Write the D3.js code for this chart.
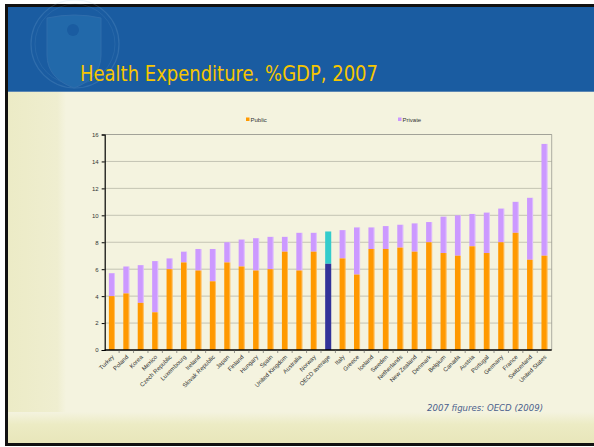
<!DOCTYPE html>
<html>
<head>
<meta charset="utf-8">
<script src="https://cdn.jsdelivr.net/npm/d3@7"></script>
<style>
  body { margin: 0; background: #ffffff; }
  svg { display: block; }
  .axis text { font-family: "Liberation Sans", Arial, sans-serif; font-size: 6px; fill: #333333; }
</style>
</head>
<body>
<script>
// Data
var countries = ['Turkey', 'Poland', 'Korea', 'Mexico', 'Czech Republic', 'Luxembourg', 'Ireland',
  'Slovak Republic', 'Japan', 'Finland', 'Hungary', 'Spain', 'United Kingdom', 'Australia', 'Norway',
  'OECD average', 'Italy', 'Greece', 'Iceland', 'Sweden', 'Netherlands', 'New Zealand', 'Denmark',
  'Belgium', 'Canada', 'Austria', 'Portugal', 'Germany', 'France', 'Switzerland', 'United States'];
var totalSpend = [5.7, 6.2, 6.3, 6.6, 6.8, 7.3, 7.5, 7.5, 8.0, 8.2, 8.3, 8.4, 8.4, 8.7, 8.7,
  8.8, 8.9, 9.1, 9.1, 9.2, 9.3, 9.4, 9.5, 9.9, 10.0, 10.1, 10.2, 10.5, 11.0, 11.3, 15.3];
var publicSpend = [4.0, 4.2, 3.5, 2.8, 6.0, 6.5, 5.9, 5.1, 6.5, 6.2, 5.9, 6.0, 7.3, 5.9, 7.3,
  6.4, 6.8, 5.6, 7.5, 7.5, 7.6, 7.3, 8.0, 7.2, 7.0, 7.7, 7.2, 8.0, 8.7, 6.7, 7.0];
var seriesNames = ['Public', 'Private'];
var yTicks = [0, 2, 4, 6, 8, 10, 12, 14, 16];

var W = 594, H = 447;

var svg = d3.select("body").append("svg")
  .attr("width", W)
  .attr("height", H);

// ---- slide background ----
svg.append("rect").attr("x", 0).attr("y", 0).attr("width", W).attr("height", H).attr("fill", "#ffffff");
svg.append("rect").attr("x", 5).attr("y", 4).attr("width", W - 5).attr("height", 442).attr("fill", "#111111");
svg.append("rect").attr("x", 8).attr("y", 7).attr("width", W - 8).attr("height", 436).attr("fill", "#f4f3df");

var defs = svg.append("defs");
var grad = defs.append("linearGradient").attr("id", "bottomGrad")
  .attr("x1", 0).attr("y1", 0).attr("x2", 0).attr("y2", 1);
grad.append("stop").attr("offset", "0%").attr("stop-color", "#f4f3df");
grad.append("stop").attr("offset", "40%").attr("stop-color", "#ecebc4");
grad.append("stop").attr("offset", "100%").attr("stop-color", "#e8e6ba");

var sideGrad = defs.append("linearGradient").attr("id", "sideGrad")
  .attr("x1", 0).attr("y1", 0).attr("x2", 1).attr("y2", 0);
sideGrad.append("stop").attr("offset", "0%").attr("stop-color", "#ecebc6");
sideGrad.append("stop").attr("offset", "85%").attr("stop-color", "#efeed0");
sideGrad.append("stop").attr("offset", "100%").attr("stop-color", "#f4f3df");

// left strip and bottom band
svg.append("rect").attr("x", 8).attr("y", 92).attr("width", 58).attr("height", 351).attr("fill", "url(#sideGrad)");
svg.append("rect").attr("x", 8).attr("y", 412).attr("width", W - 8).attr("height", 31).attr("fill", "url(#bottomGrad)");

// header
svg.append("rect").attr("x", 8).attr("y", 7).attr("width", W - 8).attr("height", 84).attr("fill", "#1a5ca1");
svg.append("line").attr("x1", 8).attr("x2", W).attr("y1", 91.5).attr("y2", 91.5)
  .attr("stroke", "#5b86b3").attr("stroke-width", 1);

// faint crest watermark
var crest = svg.append("g").attr("opacity", 0.16);
crest.append("circle").attr("cx", 75).attr("cy", 44).attr("r", 44)
  .attr("fill", "none").attr("stroke", "#9cc6e6").attr("stroke-width", 1.2);
crest.append("circle").attr("cx", 75).attr("cy", 44).attr("r", 40)
  .attr("fill", "none").attr("stroke", "#7fb0d8").attr("stroke-width", 0.8);
crest.append("path")
  .attr("d", "M47,18 Q75,12 101,18 L101,55 Q101,78 74,88 Q47,78 47,55 Z")
  .attr("fill", "#4fb0d8").attr("stroke", "#9cc6e6").attr("stroke-width", 1);
crest.append("circle").attr("cx", 73).attr("cy", 30).attr("r", 6).attr("fill", "#1a5ca1");

// title
svg.append("text")
  .attr("x", 80).attr("y", 81)
  .attr("font-family", "Verdana, 'DejaVu Sans', sans-serif")
  .attr("font-size", 21)
  .attr("fill", "#f7c600")
  .attr("textLength", 298)
  .attr("lengthAdjust", "spacingAndGlyphs")
  .text("Health Expenditure. %GDP, 2007");

// ---- chart ----
var plot = { left: 104.7, right: 551.7, top: 134.5, bottom: 350 };

var x = d3.scaleBand()
  .domain(countries)
  .range([plot.left, plot.right])
  .paddingInner(0.58)
  .paddingOuter(0.29);

var xTick = d3.scaleBand().domain(countries).range([plot.left, plot.right]);

var y = d3.scaleLinear()
  .domain([0, 16])
  .range([plot.bottom, plot.top]);

// gridlines
svg.append("g")
  .selectAll("line")
  .data(yTicks.filter(function (d) { return d > 0; }))
  .enter().append("line")
  .attr("x1", plot.left).attr("x2", plot.right)
  .attr("y1", function (d) { return y(d); })
  .attr("y2", function (d) { return y(d); })
  .attr("stroke", "#b8b7a8").attr("stroke-width", 0.8);

// plot area border (top/right)
svg.append("path")
  .attr("d", "M" + plot.left + "," + plot.top + "H" + plot.right + "V" + plot.bottom)
  .attr("fill", "none").attr("stroke", "#999990").attr("stroke-width", 0.8);

// stacked bars
var rows = countries.map(function (c, i) {
  return { name: c, pub: publicSpend[i], total: totalSpend[i], avg: c === 'OECD average' };
});

var bars = svg.append("g").selectAll("g")
  .data(rows)
  .enter().append("g");

bars.append("rect")
  .attr("x", function (d) { return x(d.name); })
  .attr("width", x.bandwidth())
  .attr("y", function (d) { return y(d.total); })
  .attr("height", function (d) { return y(d.pub) - y(d.total); })
  .attr("fill", function (d) { return d.avg ? "#33cccc" : "#cc99ff"; });

bars.append("rect")
  .attr("x", function (d) { return x(d.name); })
  .attr("width", x.bandwidth())
  .attr("y", function (d) { return y(d.pub); })
  .attr("height", function (d) { return y(0) - y(d.pub); })
  .attr("fill", function (d) { return d.avg ? "#333399" : "#ff9900"; });

// lighter right edge on the bars
bars.filter(function (d) { return !d.avg; }).append("rect")
  .attr("x", function (d) { return x(d.name) + x.bandwidth() - 1; })
  .attr("width", 1)
  .attr("y", function (d) { return y(d.total); })
  .attr("height", function (d) { return y(0) - y(d.total); })
  .attr("fill", "#ffffff").attr("opacity", 0.35);

// y axis
var yAxis = d3.axisLeft(y).tickValues(yTicks).tickSize(3).tickPadding(3);
var gy = svg.append("g")
  .attr("class", "axis")
  .attr("transform", "translate(" + plot.left + ",0)")
  .call(yAxis);
gy.select(".domain").attr("stroke", "#000000").attr("stroke-width", 1.2);
gy.selectAll(".tick line").attr("stroke", "#000000");

// x axis - ticks sit between categories
var gx = svg.append("g")
  .attr("class", "axis")
  .attr("transform", "translate(0," + plot.bottom + ")");
gx.append("line")
  .attr("x1", plot.left).attr("x2", plot.right)
  .attr("stroke", "#000000").attr("stroke-width", 1.5);
gx.selectAll("line.sep")
  .data(countries.slice(1))
  .enter().append("line")
  .attr("class", "sep")
  .attr("x1", function (d) { return xTick(d); })
  .attr("x2", function (d) { return xTick(d); })
  .attr("y1", 0).attr("y2", 3)
  .attr("stroke", "#555555").attr("stroke-width", 0.6);
gx.selectAll("text")
  .data(countries)
  .enter().append("text")
  .attr("transform", function (d) {
    return "translate(" + (xTick(d) + xTick.bandwidth() / 2 + 1) + ",6) rotate(-45)";
  })
  .attr("text-anchor", "end")
  .attr("dy", "0.35em")
  .text(function (d) { return d; });

// legend
var legend = svg.append("g").attr("class", "axis");
var legendX = [246, 398];
var legendColor = ["#ff9900", "#cc99ff"];
seriesNames.forEach(function (s, i) {
  legend.append("rect")
    .attr("x", legendX[i]).attr("y", 117.5)
    .attr("width", 3.5).attr("height", 3.5)
    .attr("fill", legendColor[i]);
  legend.append("text")
    .attr("x", legendX[i] + 4.5).attr("y", 121.5)
    .text(s);
});

// source note
svg.append("text")
  .attr("x", 427).attr("y", 411)
  .attr("font-family", "Verdana, 'DejaVu Sans', sans-serif")
  .attr("font-style", "italic")
  .attr("font-size", 9)
  .attr("fill", "#4b5f8c")
  .attr("textLength", 116)
  .attr("lengthAdjust", "spacingAndGlyphs")
  .text("2007 figures: OECD (2009)");
</script>
</body>
</html>
